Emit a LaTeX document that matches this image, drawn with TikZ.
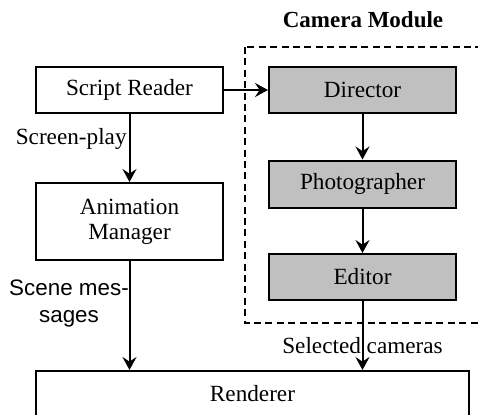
\documentclass[tikz,border=0pt]{standalone}
\usepackage{fontspec}
\setmainfont{Liberation Serif}
\setsansfont{Liberation Sans}
\usetikzlibrary{arrows.meta,calc}
\definecolor{boxgray}{RGB}{192,192,192}
\begin{document}
\begin{tikzpicture}[x=0.5pt,y=-0.5pt,
  font=\fontsize{11.6}{12.5}\selectfont,
  box/.style={draw=black,line width=1pt,minimum width=93.5pt,minimum height=23pt,inner sep=0pt,align=center},
  gbox/.style={box,fill=boxgray},
  arr/.style={line width=1pt,-{Stealth[length=6.5pt,width=7pt,inset=2.3pt]}},
  lbl/.style={inner sep=0pt}]
\useasboundingbox (0,0) rectangle (478,414);
\clip (0,0) rectangle (478,414);
\draw[line width=1pt,dash pattern=on 3.5pt off 2.2pt] (245,47) rectangle (481,323);
\node[lbl,font=\fontsize{11.5}{12}\selectfont\bfseries] (title) at (363,20) {Camera Module};
\node[box] (sr) at (129.5,90) {Script Reader};
\node[gbox] (dir) at (362.5,90) {Director};
\node[gbox,minimum height=23.5pt] (ph) at (362.5,184) {Photographer};
\node[gbox] (ed) at (362.5,277) {Editor};
\node[box,minimum height=38.5pt] (am) at (129.5,221.5) {Animation\\Manager};
\node[box,minimum width=216.5pt,minimum height=22.5pt] (rd) at (252.5,393.5) {Renderer};
\draw[arr] (sr.east) -- (dir.west);
\draw[arr] (sr) -- (am);
\draw[arr] (dir) -- (ph);
\draw[arr] (ph) -- (ed);
\draw[arr] (am.south) -- (am.south |- rd.north);
\draw[arr] (ed.south) -- (ed.south |- rd.north);
\node[lbl,anchor=east] (sp) at (127,139) {Screen-play};
\node[lbl,align=center,font=\sffamily\fontsize{11.2}{13.5}\selectfont] (sm) at (69,303) {Scene mes-\\sages};
\node[lbl] (sc) at (362.5,346) {Selected cameras};
\end{tikzpicture}
\end{document}
